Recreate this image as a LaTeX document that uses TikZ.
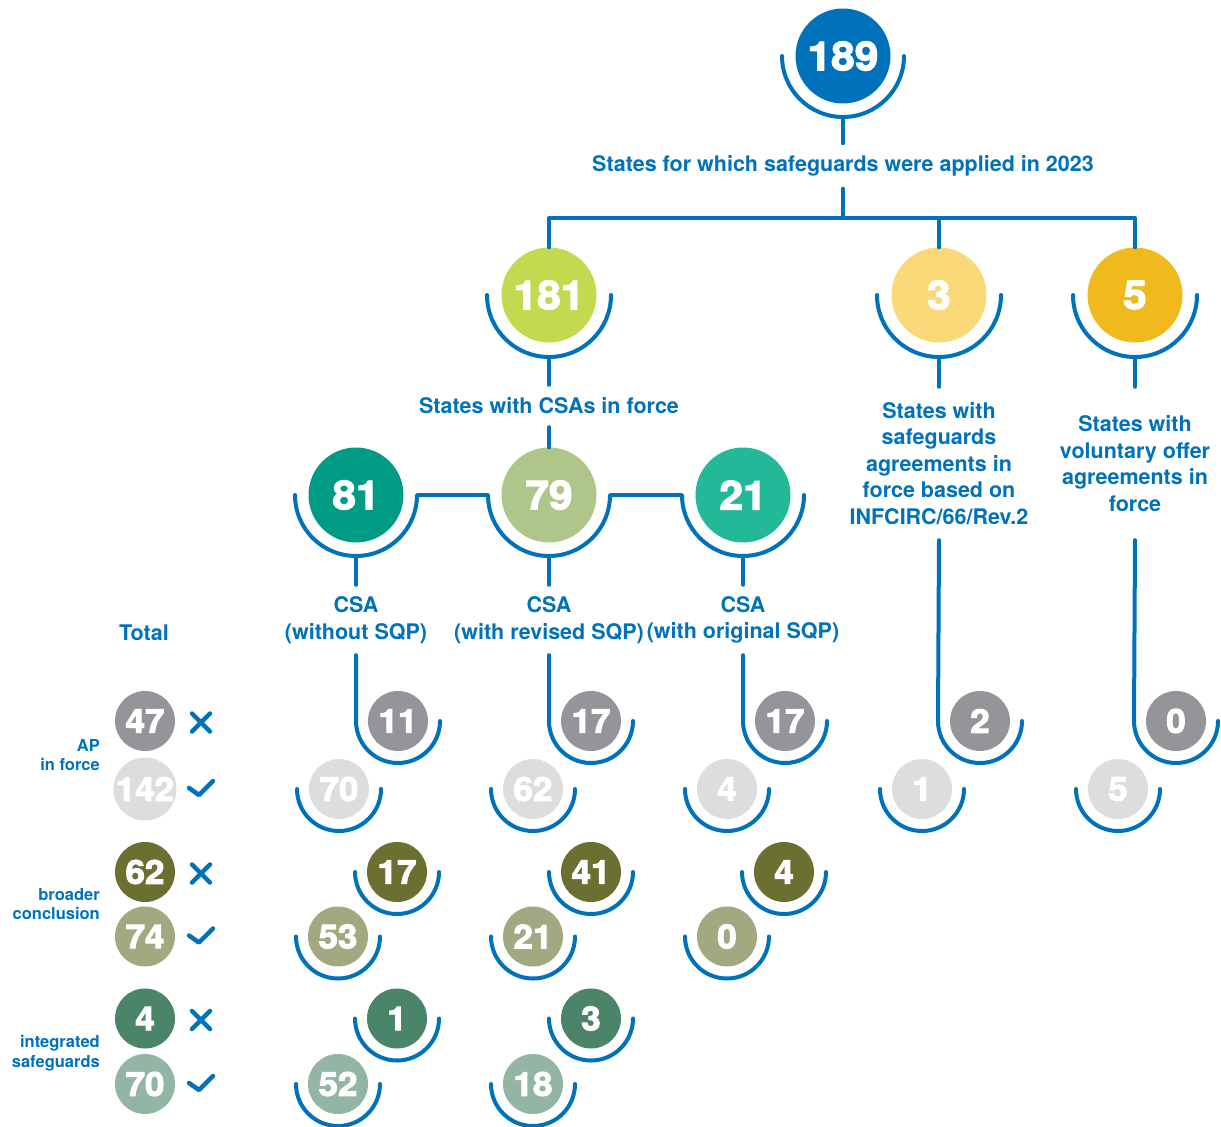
\documentclass[tikz,border=0pt]{standalone}
\usepackage{fontspec}
\setmainfont{TeX Gyre Heros}
\newfontfamily\numfont{TeX Gyre Heros}[BoldFeatures={FakeBold=3,FakeStretch=1.06}]
\usepackage{tikz}
\usetikzlibrary{positioning}
\definecolor{azul}{RGB}{0,114,188}
\definecolor{lima}{RGB}{196,217,79}
\definecolor{amarillo}{RGB}{249,217,120}
\definecolor{oro}{RGB}{240,186,28}
\definecolor{verdeazul}{RGB}{0,155,133}
\definecolor{salvia}{RGB}{174,198,137}
\definecolor{turquesa}{RGB}{35,184,152}
\definecolor{grisosc}{RGB}{147,149,152}
\definecolor{grisclaro}{RGB}{220,221,222}
\definecolor{olivaosc}{RGB}{107,111,47}
\definecolor{olivaclaro}{RGB}{164,168,128}
\definecolor{verdeosc}{RGB}{74,133,106}
\definecolor{verdeclaro}{RGB}{147,181,164}
\tikzset{
  linea/.style={
    line width=4pt,
    draw=azul,
    line cap=round,
    line join=round
  },
  marca/.style={
    line width=4.5pt,
    draw=azul,
    line cap=round,
    line join=round
  },
  circulo/.style={
    circle,
    minimum size=95pt,
    inner sep=0pt,
    text=white,
    font=\numfont\bfseries\fontsize{40}{40}\selectfont
  },
  circulito/.style={
    circle,
    minimum size=60pt,
    inner sep=0pt,
    text=white,
    font=\numfont\bfseries\fontsize{33}{33}\selectfont
  },
  etiqueta/.style={
    text=azul,
    align=center,
    inner sep=0pt,
    font=\bfseries\fontsize{21.5}{26.5}\selectfont
  },
  lateral/.style={
    text=azul,
    align=right,
    inner sep=0pt,
    anchor=east,
    font=\bfseries\fontsize{16.5}{19.5}\selectfont
  }
}
% taza bajo un circulo
\newcommand{\taza}[2][42pt]{\draw[linea] ([xshift=-#1]#2.center) arc[start angle=180,end angle=360,radius=#1];}
\newcommand{\cruz}[1]{\draw[marca] ([shift={(47pt,7.5pt)}]#1.center) -- ++(18pt,-18pt) ([shift={(47pt,-10.5pt)}]#1.center) -- ++(18pt,18pt);}
\newcommand{\visto}[1]{\draw[marca] ([shift={(44pt,1pt)}]#1.center) -- ++(10pt,-7pt) -- ++(14pt,14pt);}

\begin{document}
\begin{tikzpicture}[x=1pt,y=-1pt]
\useasboundingbox (0,0) rectangle (1221,1127);
\fill[white] (0,0) rectangle (1221,1127);

% nivel 1
\node[circulo,fill=azul] (n189) at (843,56) {189};
\node[etiqueta,minimum height=45pt] (t189) at (843,166) {States for which safeguards were applied in 2023};
\coordinate (rama) at (843,218);
\taza[61pt]{n189}
\draw[linea] ([yshift=-61pt]n189.center) -- (t189.north);
\draw[linea] (t189.south) -- (rama);

% nivel 2
\node[circulo,fill=lima] (n181) at (549,295) {181};
\node[circulo,fill=amarillo] (n3) at (939,295) {3};
\node[circulo,fill=oro] (n5) at (1135,295) {5};
\draw[linea] (n181.north) -- (n181.north |- rama) -- (n5.north |- rama) -- (n5.north);
\draw[linea] (n3.north |- rama) -- (n3.north);
\taza[62pt]{n181}
\taza[62pt]{n3}
\taza[62pt]{n5}
\node[etiqueta,minimum height=42pt] (t181) at (549,406) {States with CSAs in force};
\node[etiqueta,minimum height=153pt] (t3) at (939,463.5) {States with\\safeguards\\agreements in\\force based on\\INFCIRC/66/Rev.2};
\node[etiqueta,minimum height=153pt] (t5) at (1135,463.5) {States with\\voluntary offer\\agreements in\\force};
\draw[linea] ([yshift=-62pt]n181.center) -- (t181.north);
\draw[linea] ([yshift=-62pt]n3.center) -- (t3.north);
\draw[linea] ([yshift=-62pt]n5.center) -- (t5.north);

% nivel 3
\node[circulo,fill=verdeazul] (n81) at (356,495) {81};
\node[circulo,fill=salvia] (n79) at (549,495) {79};
\node[circulo,fill=turquesa] (n21) at (743,495) {21};
\draw[linea] (t181.south) -- (n79.north);
\draw[linea] ([xshift=-61pt]n81.center) arc[start angle=180,end angle=360,radius=61pt]
  -- ([xshift=-61pt]n79.center) arc[start angle=180,end angle=360,radius=61pt]
  -- ([xshift=-61pt]n21.center) arc[start angle=180,end angle=360,radius=61pt];
\node[etiqueta,minimum height=70pt] (t81) at (356,620) {CSA\\(without SQP)};
\node[etiqueta,minimum height=70pt] (t79) at (549,620) {CSA\\(with revised SQP)};
\node[etiqueta,minimum height=70pt] (t21) at (743,620) {CSA\\(with original SQP)};
\draw[linea] ([yshift=-61pt]n81.center) -- (t81.north);
\draw[linea] ([yshift=-61pt]n79.center) -- (t79.north);
\draw[linea] ([yshift=-61pt]n21.center) -- (t21.north);

% totales
\node[etiqueta] (total) at (144,633) {Total};
\node[circulito,fill=grisosc] (tot47) at (145,721) {47};
\node[circulito,fill=grisclaro] (tot142) at (145,789) {142};
\node[circulito,fill=olivaosc] (tot62) at (145,872) {62};
\node[circulito,fill=olivaclaro] (tot74) at (145,936.5) {74};
\node[circulito,fill=verdeosc] (tot4) at (145,1018.5) {4};
\node[circulito,fill=verdeclaro] (tot70) at (145,1084) {70};
\cruz{tot47} \visto{tot142}
\cruz{tot62} \visto{tot74}
\cruz{tot4} \visto{tot70}
\node[lateral] (lap) at (100,755) {AP\\in force};
\node[lateral] (lbc) at (100,904) {broader\\conclusion};
\node[lateral] (lis) at (100,1053) {integrated\\safeguards};

% fila AP
\node[circulito,fill=grisosc] (ap81) at (398,721) {11};
\node[circulito,fill=grisosc] (ap79) at (591,721) {17};
\node[circulito,fill=grisosc] (ap21) at (785,721) {17};
\node[circulito,fill=grisosc] (ap3) at (980,721) {2};
\node[circulito,fill=grisosc] (ap5) at (1176,721) {0};
\draw[linea] (t81.south) -- ([xshift=-42pt]ap81.center) arc[start angle=180,end angle=360,radius=42pt];
\draw[linea] (t79.south) -- ([xshift=-42pt]ap79.center) arc[start angle=180,end angle=360,radius=42pt];
\draw[linea] (t21.south) -- ([xshift=-42pt]ap21.center) arc[start angle=180,end angle=360,radius=42pt];
\draw[linea] (t3.south) -- ([xshift=-42pt]ap3.center) arc[start angle=180,end angle=360,radius=42pt];
\draw[linea] (t5.south) -- ([xshift=-42pt]ap5.center) arc[start angle=180,end angle=360,radius=42pt];
\node[circulito,fill=grisclaro,on grid,below left=68pt and 59pt of ap81] (sap81) {70};
\node[circulito,fill=grisclaro,on grid,below left=68pt and 58pt of ap79] (sap79) {62};
\node[circulito,fill=grisclaro,on grid,below left=68pt and 58pt of ap21] (sap21) {4};
\node[circulito,fill=grisclaro,on grid,below left=68pt and 58pt of ap3] (sap3) {1};
\node[circulito,fill=grisclaro,on grid,below left=68pt and 58pt of ap5] (sap5) {5};
\taza{sap81} \taza{sap79} \taza{sap21} \taza{sap3} \taza{sap5}

% fila broader conclusion
\node[circulito,fill=olivaosc] (bc81) at (397,872) {17};
\node[circulito,fill=olivaosc] (bc79) at (591,872) {41};
\node[circulito,fill=olivaosc] (bc21) at (784,872) {4};
\node[circulito,fill=olivaclaro,on grid,below left=64.5pt and 59pt of bc81] (sbc81) {53};
\node[circulito,fill=olivaclaro,on grid,below left=64.5pt and 58pt of bc79] (sbc79) {21};
\node[circulito,fill=olivaclaro,on grid,below left=64.5pt and 57pt of bc21] (sbc21) {0};
\taza{bc81} \taza{bc79} \taza{bc21}
\taza{sbc81} \taza{sbc79} \taza{sbc21}

% fila integrated safeguards
\node[circulito,fill=verdeosc] (is81) at (397,1018.5) {1};
\node[circulito,fill=verdeosc] (is79) at (591,1018.5) {3};
\node[circulito,fill=verdeclaro,on grid,below left=65.5pt and 59pt of is81] (sis81) {52};
\node[circulito,fill=verdeclaro,on grid,below left=65.5pt and 58pt of is79] (sis79) {18};
\taza{is81} \taza{is79}
\taza{sis81} \taza{sis79}
\end{tikzpicture}
\end{document}
